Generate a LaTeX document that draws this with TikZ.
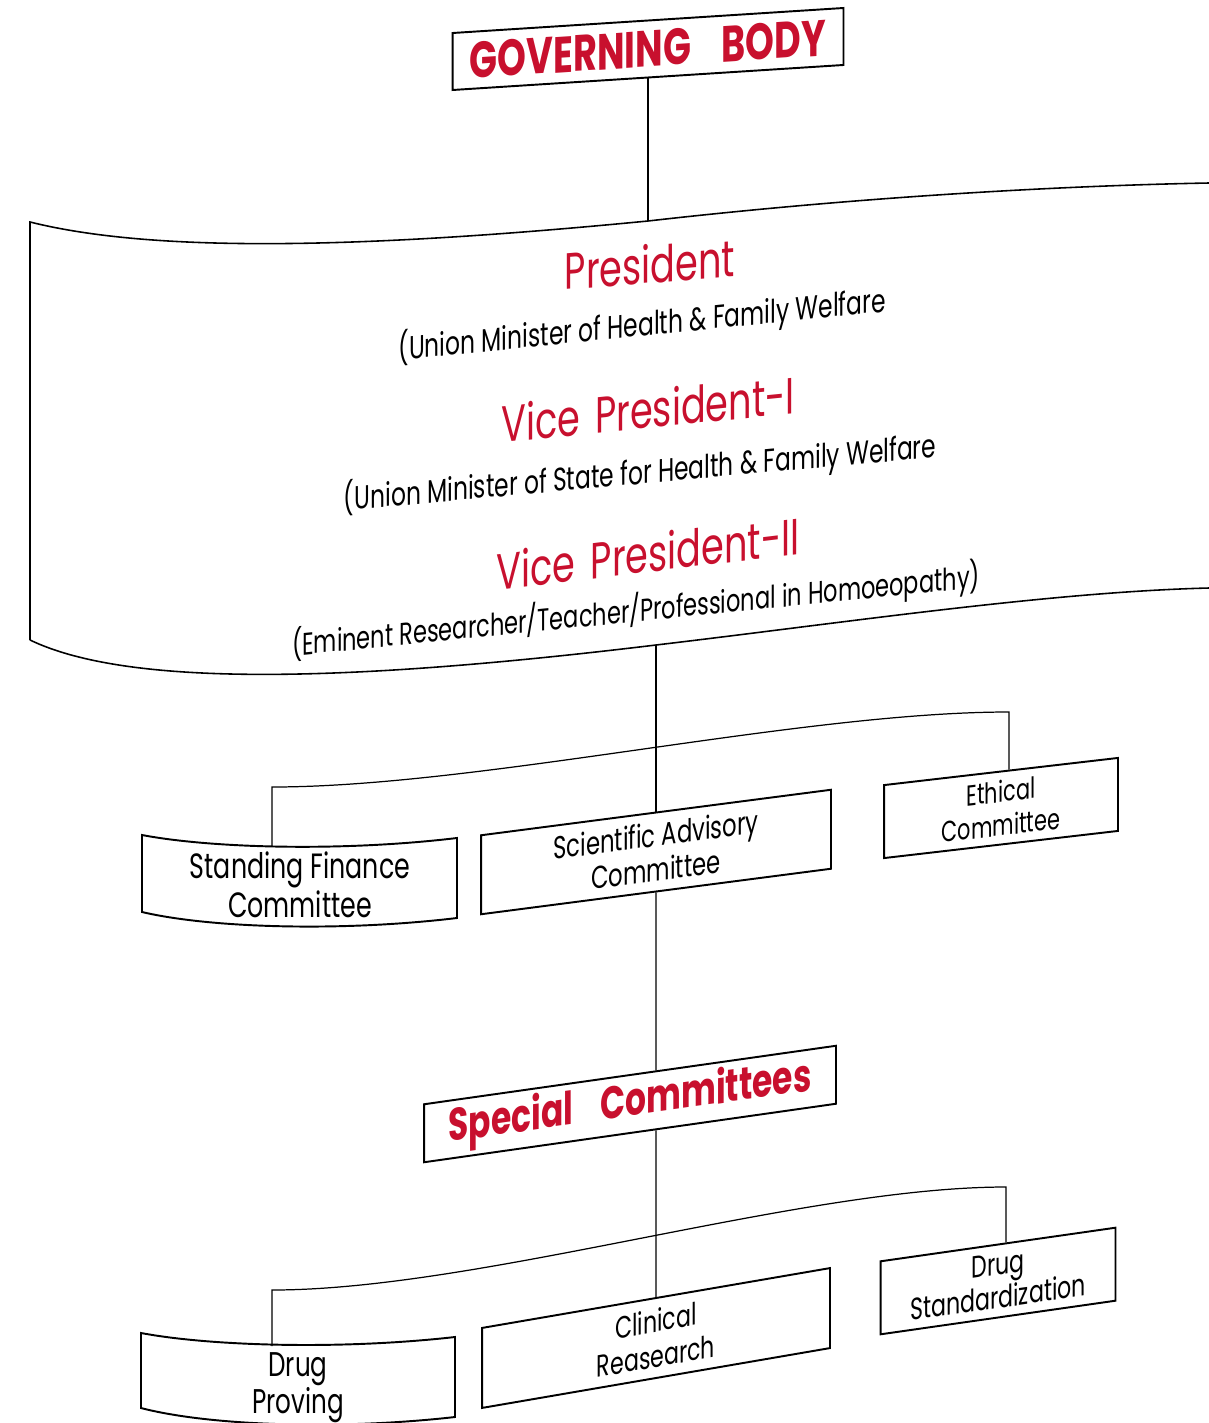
\documentclass[tikz,border=0pt]{standalone}
\usepackage{fontspec}
\setmainfont[FakeStretch=0.72]{Poppins}
\usetikzlibrary{calc}
\definecolor{chred}{RGB}{200,16,46}

\begin{document}
\begin{tikzpicture}[
    x=0.02cm, y=-0.02cm,
    lbl/.style={text=black, align=center, inner sep=0pt, font=\fontsize{18}{20}\selectfont},
    box/.style={lbl, draw=black, line width=1.1pt},
    head/.style={box, text=chred, font=\fontsize{26}{28}\selectfont\bfseries},
    office/.style={text=chred, inner sep=0pt, font=\fontsize{29}{31}\selectfont},
    duty/.style={text=black, inner sep=0pt, font=\fontsize{18.5}{20}\selectfont},
    boxline/.style={black, line width=1.1pt},
    rim/.style={black, line width=0.9pt},
    conn/.style={black, line width=0.7pt}
]
\useasboundingbox (0,0) rectangle (1209,1423);

% ---------- Governing body ----------
\node[head, yslant=0.064, minimum width=7.82cm, minimum height=1.14cm,
    font=\fontsize{29}{31}\selectfont\bfseries] (gb) at (648,49) {GOVERNING\hspace{0.6em}BODY};

% ---------- Flag with the office bearers ----------
\coordinate (flagtop) at (648,221);
\coordinate (flagbot) at (656,645);
\draw[rim] (30,640) -- (30,222) .. controls (150,252) and (350,250) .. (flagtop)
    .. controls (850,198) and (1050,186) .. (1209,183);
\draw[rim] (30,640) .. controls (130,688) and (350,682) .. (flagbot)
    .. controls (850,622) and (1050,592) .. (1209,588);

\node[office, yslant=0.08] (pres) at (650,264) {President};
\node[duty, yslant=0.1] (presrole) at (642,325) {(Union Minister of Health \& Family Welfare};
\node[office, yslant=0.1] (vpone) at (648,409) {Vice\hspace{0.3em}President-I};
\node[duty, yslant=0.09] (vponerole) at (640,473) {(Union Minister of State for Health \& Family Welfare};
\node[office, yslant=0.12] (vptwo) at (648,553) {Vice\hspace{0.3em}President-II};
\node[duty, yslant=0.1, font=\fontsize{17.8}{20}\selectfont] (vptworole) at (636,611)
    {(Eminent Researcher/Teacher/Professional in Homoeopathy)};

% ---------- Standing committees ----------
\node[lbl, font=\fontsize{20}{22}\selectfont] (sfc) at (300,885) {Standing Finance\\Committee};
\draw[boxline] (142,835) .. controls (210,848) and (340,852) .. (457,838) -- (457,918)
    .. controls (340,932) and (210,928) .. (142,912) -- cycle;
\coordinate (sftop) at (272,846);

\node[box, yslant=0.13, minimum width=7cm, minimum height=1.58cm] (sac) at (656,852) {Scientific Advisory\\Committee};
\node[box, yslant=0.116, minimum width=4.68cm, minimum height=1.46cm,
    font=\fontsize{16.5}{19}\selectfont] (eth) at (1001,808) {Ethical\\Committee};

% ---------- Special committees ----------
\node[head, yslant=0.142, minimum width=8.24cm, minimum height=1.16cm] (spc) at (630,1104) {Special\hspace{0.6em}Committees};

\node[lbl, font=\fontsize{19.5}{21}\selectfont] (dp) at (298,1388) {Drug\\Proving};
\draw[boxline] (141,1333) .. controls (210,1346) and (340,1350) .. (455,1337) -- (455,1417)
    .. controls (340,1430) and (210,1426) .. (141,1408) -- cycle;
\coordinate (dptop) at (272,1346);

\node[box, yslant=0.172, minimum width=6.96cm, minimum height=1.6cm,
    font=\fontsize{17.5}{20}\selectfont] (cr) at (656,1338) {Clinical\\Reasearch};
\node[box, yslant=0.143, minimum width=4.7cm, minimum height=1.46cm,
    font=\fontsize{17.5}{19}\selectfont] (ds) at (998,1281) {Drug\\Standardization};

% ---------- Connectors ----------
\draw[conn] (gb.south) -- (flagtop);
\draw[conn] (flagbot) -- (sac.north);
\draw[conn] (sftop) -- ++(0,-59) .. controls (480,787) and (800,712) .. (1009,712)
    -- ($(eth.north west)!0.534!(eth.north east)$);
\draw[conn] (sac.south) -- ($(spc.north west)!0.563!(spc.north east)$);
\draw[conn] ($(spc.south west)!0.563!(spc.south east)$) -- (cr.north);
\draw[conn] (dptop) -- ++(0,-56) .. controls (480,1290) and (800,1187) .. (1006,1187)
    -- ($(ds.north west)!0.534!(ds.north east)$);

\end{tikzpicture}
\end{document}
